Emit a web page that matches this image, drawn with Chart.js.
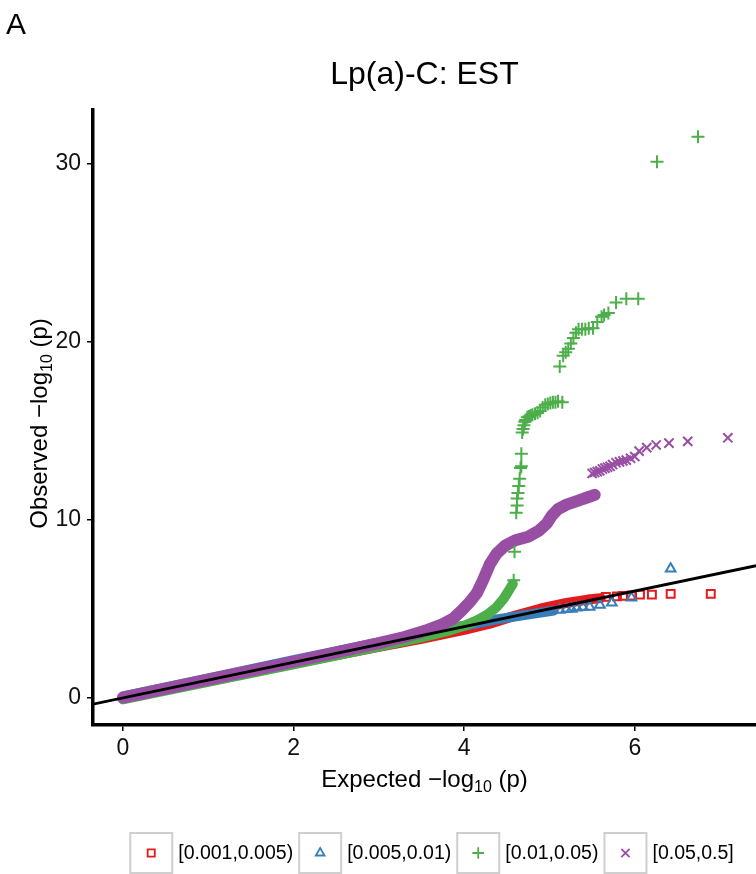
<!DOCTYPE html>
<html>
<head>
<meta charset="utf-8">
<script src="https://cdn.jsdelivr.net/npm/chart.js@4.4.0/dist/chart.umd.min.js"></script>
<style>
  html, body { margin: 0; padding: 0; background: #fff; }
  #wrap { width: 756px; height: 874px; }
</style>
</head>
<body>
<div id="wrap"><canvas id="qq" width="756" height="874"></canvas></div>
<script>
// axis setup
const xTicks = [0, 2, 4, 6];
const yTicks = [0, 10, 20, 30];
const xRange = [-0.35, 7.42];
const yRange = [-1.52, 33.0];
const refLine = [-0.35, 7.42]; // y = x

const titleText = 'Lp(a)-C: EST';
const panelTag = 'A';
const legendLabels = ['[0.001,0.005)', '[0.005,0.01)', '[0.01,0.05)', '[0.05,0.5]'];

// dense part of each group (thousands of overlapping markers)
const redBandX = [0, 1, 2, 3, 3.5, 4, 4.3, 4.6, 4.9, 5.2, 5.45, 5.6];
const redBandY = [-0.02, 0.96, 1.92, 2.86, 3.32, 3.82, 4.17, 4.62, 5.02, 5.33, 5.52, 5.6];
const blueBandX = [0, 1, 2, 3, 3.5, 4, 4.4, 4.8, 5.05];
const blueBandY = [0.08, 1.1, 2.12, 3.12, 3.6, 4.05, 4.42, 4.72, 4.9];
const greenBandX = [0, 1, 2, 3, 3.5, 3.8, 4.0, 4.15, 4.28, 4.38, 4.46, 4.52, 4.57];
const greenBandY = [-0.08, 0.9, 1.88, 2.88, 3.4, 3.75, 4.05, 4.35, 4.7, 5.1, 5.55, 6.0, 6.4];
const purpleBandX = [0, 1, 2, 3, 3.3, 3.55, 3.75, 3.87, 3.97, 4.07, 4.15, 4.22, 4.3, 4.38, 4.48, 4.6, 4.75, 4.88, 4.97, 5.03, 5.1, 5.2, 5.32, 5.44, 5.53];
const purpleBandY = [0.02, 1.02, 2.03, 3.08, 3.42, 3.78, 4.15, 4.45, 4.9, 5.4, 5.9, 6.6, 7.5, 8.1, 8.55, 8.85, 9.05, 9.4, 9.8, 10.25, 10.6, 10.85, 11.05, 11.25, 11.4];

// sparse tail points
const redTailX = [5.66, 5.79, 5.86, 5.96, 6.06, 6.2, 6.42, 6.89];
const redTailY = [5.67, 5.7, 5.73, 5.75, 5.8, 5.8, 5.84, 5.84];
const blueTailX = [5.12, 5.2, 5.26, 5.32, 5.39, 5.47, 5.59, 5.73, 5.96, 6.42];
const blueTailY = [4.94, 5.0, 5.0, 5.06, 5.11, 5.11, 5.22, 5.34, 5.62, 7.25];
const greenTailX = [4.58, 4.59, 4.61, 4.62, 4.62, 4.63, 4.64, 4.65, 4.66, 4.67, 4.67, 4.68, 4.69, 4.70, 4.71, 4.72, 4.74, 4.76, 4.78, 4.80, 4.83, 4.86, 4.89, 4.92, 4.95, 4.98, 5.01, 5.04, 5.07, 5.10, 5.15, 5.12, 5.16, 5.19, 5.22, 5.25, 5.28, 5.31, 5.34, 5.38, 5.42, 5.46, 5.51, 5.56, 5.61, 5.64, 5.69, 5.78, 5.90, 6.04, 6.26, 6.74];
const greenTailY = [6.6, 8.2, 10.4, 10.8, 11.2, 11.5, 11.9, 12.3, 12.9, 13.0, 13.7, 14.9, 15.1, 15.3, 15.5, 15.6, 15.75, 15.8, 15.85, 15.9, 15.95, 16.0, 16.1, 16.3, 16.45, 16.5, 16.55, 16.6, 16.6, 16.65, 16.6, 18.6, 19.2, 19.4, 19.6, 19.9, 20.2, 20.5, 20.7, 20.7, 20.7, 20.75, 20.75, 21.1, 21.4, 21.5, 21.6, 22.2, 22.4, 22.4, 30.1, 31.5];
const purpleTailX = [5.50, 5.53, 5.56, 5.59, 5.62, 5.65, 5.68, 5.71, 5.74, 5.78, 5.82, 5.86, 5.90, 5.95, 6.00, 6.05, 6.14, 6.25, 6.40, 6.62, 7.09];
const purpleTailY = [12.6, 12.65, 12.7, 12.75, 12.85, 12.9, 12.95, 13.0, 13.1, 13.2, 13.25, 13.3, 13.35, 13.45, 13.55, 13.85, 14.05, 14.2, 14.3, 14.4, 14.6];

const FONT = '"Liberation Sans", Arial, Helvetica, sans-serif';
const colors = { red: '#E41A1C', blue: '#377EB8', green: '#4DAF4A', purple: '#984EA3' };
const markers = [
    { style: 'rect', color: colors.red, r: 5.6 },
    { style: 'triangle', color: colors.blue, r: 5.6 },
    { style: 'cross', color: colors.green, r: 6.5 },
    { style: 'crossRot', color: colors.purple, r: 6.5 },
];

const pts = (xs, ys) => xs.map((x, i) => ({ x: x, y: ys[i] }));

const band = (xs, ys, color, width, order) => ({
    data: pts(xs, ys),
    showLine: true,
    borderColor: color,
    borderWidth: width,
    borderCapStyle: 'round',
    borderJoinStyle: 'round',
    pointRadius: 0,
    tension: 0,
    order: order,
});

const tail = (xs, ys, m, order) => ({
    data: pts(xs, ys),
    showLine: false,
    pointStyle: m.style,
    pointRadius: m.r,
    pointBorderColor: m.color,
    pointBackgroundColor: 'rgba(0,0,0,0)',
    pointBorderWidth: 2,
    order: order,
});

// draws "<name> −log10 (p)" with a subscript
function drawLogLabel(ctx, name, cx, cy, angle) {
    const parts = [
        { t: name + ' \u2212log', size: 24, dy: 0 },
        { t: '10', size: 16, dy: 5 },
        { t: ' (p)', size: 24, dy: 0 },
    ];
    let total = 0;
    parts.forEach(p => {
        ctx.font = p.size + 'px ' + FONT;
        p.w = ctx.measureText(p.t).width;
        total += p.w;
    });
    ctx.save();
    ctx.translate(cx, cy);
    ctx.rotate(angle);
    ctx.textAlign = 'left';
    ctx.textBaseline = 'alphabetic';
    let x = -total / 2;
    parts.forEach(p => {
        ctx.font = p.size + 'px ' + FONT;
        ctx.fillText(p.t, x, p.dy);
        x += p.w;
    });
    ctx.restore();
}

const decorPlugin = {
    id: 'decor',
    afterDraw(chart) {
        const ctx = chart.ctx;
        const a = chart.chartArea;
        ctx.save();
        ctx.fillStyle = '#000';
        ctx.textBaseline = 'alphabetic';
        ctx.textAlign = 'left';
        ctx.font = '30px ' + FONT;
        ctx.fillText(panelTag, 6, 34);
        ctx.textAlign = 'center';
        ctx.font = '32px ' + FONT;
        ctx.fillText(titleText, (a.left + a.right) / 2, 84);

        drawLogLabel(ctx, 'Expected', (a.left + a.right) / 2, 787, 0);
        drawLogLabel(ctx, 'Observed', 47, (a.top + a.bottom) / 2 + 6, -Math.PI / 2);

        // legend, ggplot style keys
        ctx.font = '19.5px ' + FONT;
        const boxW = 42, boxH = 40, gap = 6, cy = 853;
        const widths = legendLabels.map(t => ctx.measureText(t).width);
        let total = widths.reduce((s, w) => s + w + boxW + 2 * gap, 0) - gap;
        let x = 432 - total / 2;
        legendLabels.forEach((label, i) => {
            ctx.strokeStyle = '#cfcfcf';
            ctx.lineWidth = 2;
            ctx.strokeRect(x, cy - boxH / 2, boxW, boxH);
            const m = markers[i];
            ctx.strokeStyle = m.color;
            ctx.fillStyle = 'rgba(0,0,0,0)';
            ctx.lineWidth = 1.8;
            Chart.helpers.drawPoint(ctx, { pointStyle: m.style, radius: m.r * 0.9, rotation: 0, borderWidth: 1.8 }, x + boxW / 2, cy);
            ctx.fillStyle = '#000';
            ctx.textAlign = 'left';
            ctx.textBaseline = 'middle';
            ctx.fillText(label, x + boxW + gap, cy + 1);
            x += boxW + gap + widths[i] + gap;
        });
        ctx.restore();
    }
};

const axisStyle = {
    grid: { drawOnChartArea: false, drawTicks: true, tickLength: 6, color: '#000', lineWidth: 1.5 },
    border: { display: true, color: '#000', width: 3.5 },
    ticks: { color: '#111', font: { family: FONT, size: 23 }, padding: 4, maxRotation: 0 },
};

new Chart(document.getElementById('qq'), {
    type: 'scatter',
    data: {
        datasets: [
            { data: pts(refLine, refLine), showLine: true, borderColor: '#000', borderWidth: 2.8, pointRadius: 0, order: 0 },
            tail(greenTailX, greenTailY, markers[2], 1),
            tail(purpleTailX, purpleTailY, markers[3], 2),
            band(purpleBandX, purpleBandY, colors.purple, 12, 3),
            band(greenBandX, greenBandY, colors.green, 10, 4),
            tail(blueTailX, blueTailY, markers[1], 5),
            tail(redTailX, redTailY, markers[0], 6),
            band(blueBandX, blueBandY, colors.blue, 10, 7),
            band(redBandX, redBandY, colors.red, 10, 8),
        ],
    },
    options: {
        responsive: false,
        animation: false,
        events: [],
        layout: { autoPadding: false, padding: { top: 110, left: 0, right: 0, bottom: 0 } },
        plugins: { legend: { display: false }, tooltip: { enabled: false } },
        scales: {
            x: {
                type: 'linear', min: xRange[0], max: xRange[1],
                afterBuildTicks: s => { s.ticks = xTicks.map(v => ({ value: v })); },
                afterFit: s => { s.height = 874 - 725; s.paddingLeft = 0; s.paddingRight = 0; },
                ...axisStyle,
            },
            y: {
                type: 'linear', min: yRange[0], max: yRange[1],
                afterBuildTicks: s => { s.ticks = yTicks.map(v => ({ value: v })); },
                afterFit: s => { s.width = 93; s.paddingTop = 0; s.paddingBottom = 0; },
                ...axisStyle,
                ticks: { ...axisStyle.ticks, padding: 6 },
            },
        },
    },
    plugins: [decorPlugin],
});
</script>
</body>
</html>
